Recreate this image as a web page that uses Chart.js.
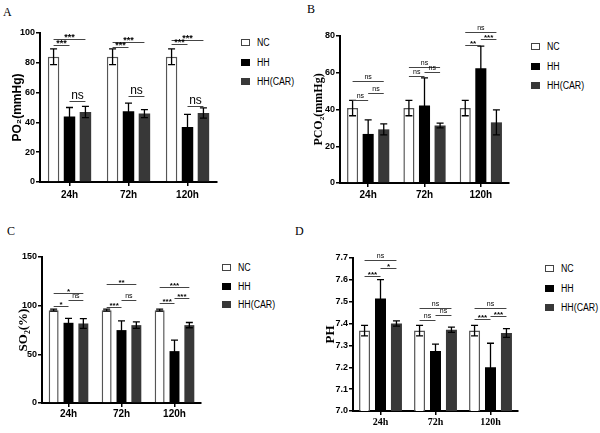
<!DOCTYPE html>
<html>
<head>
<meta charset="utf-8">
<script src="https://cdn.jsdelivr.net/npm/chart.js@4.4.1/dist/chart.umd.min.js"></script>
<style>
  body { margin: 0; background: #fff; }
  #page { position: relative; width: 600px; height: 433px; overflow: hidden; background: #fff; }
  canvas { position: absolute; }
  .letter { position: absolute; font: 12px 'Liberation Serif', 'Times New Roman', serif; color: #000; }
  .legend { position: absolute; font: 10px 'Liberation Sans Narrow', 'Arial Narrow', 'Liberation Sans', Arial, sans-serif; color: #000; }
  .legend div { position: absolute; left: 0; white-space: nowrap; height: 10px; line-height: 10px; }
  .legend i { position: absolute; left: 0; top: 1px; width: 9px; height: 7px; box-sizing: border-box; }
  .legend span { position: absolute; left: 16px; top: 0; transform: scaleX(0.88); transform-origin: left center; }
</style>
</head>
<body>
<div id="page">
  <div class="letter" style="left:3px;top:5px">A</div>
  <div class="letter" style="left:307px;top:2px">B</div>
  <div class="letter" style="left:7px;top:224px">C</div>
  <div class="letter" style="left:295px;top:224px">D</div>

  <canvas id="chartA" width="230" height="216" style="left:0;top:0"></canvas>
  <canvas id="chartB" width="215" height="216" style="left:300px;top:0"></canvas>
  <canvas id="chartC" width="215" height="217" style="left:0;top:216px"></canvas>
  <canvas id="chartD" width="230" height="217" style="left:300px;top:216px"></canvas>

  <div class="legend" id="legA" style="left:241px;top:38px"></div>
  <div class="legend" id="legB" style="left:531px;top:42px"></div>
  <div class="legend" id="legC" style="left:222px;top:263px"></div>
  <div class="legend" id="legD" style="left:545px;top:264px"></div>
</div>

<script>
// categories
const times  = ['24h', '72h', '120h'];
const groups = ['NC', 'HH', 'HH(CAR)'];

// PO2 (mmHg)
const po2NC     = [84.1, 84.1, 84.1];
const po2NCErr  = [5.3, 5.3, 5.3];
const po2HH     = [44, 47.4, 36.9];
const po2HHErr  = [6, 5.6, 8.5];
const po2CAR    = [47, 45.9, 46.3];
const po2CARErr = [3.8, 2.7, 3.4];
// [time, from group, to group, height, label]
const po2Sig = [
  [0, 0, 2, 96.2, '***'], [0, 0, 1, 91.9, '***'], [0, 1, 2, 54.6, 'ns'],
  [1, 0, 2, 93.9, '***'], [1, 0, 1, 90.6, '***'], [1, 1, 2, 57.5, 'ns'],
  [2, 0, 2, 95.3, '***'], [2, 0, 1, 92.4, '***'], [2, 1, 2, 51.2, 'ns']
];

// PCO2 (mmHg)
const pco2NC     = [40.8, 40.8, 40.8];
const pco2NCErr  = [4.2, 4.2, 4.2];
const pco2HH     = [26.7, 42.2, 62.5];
const pco2HHErr  = [7.7, 15, 12];
const pco2CAR    = [29.2, 31.3, 33];
const pco2CARErr = [3, 1.3, 6.8];
const pco2Sig = [
  [0, 0, 2, 55.7, 'ns'], [0, 0, 1, 45.4, 'ns'], [0, 1, 2, 48.8, 'ns'],
  [1, 0, 2, 63.4, 'ns'], [1, 0, 1, 58, 'ns'],   [1, 1, 2, 60.5, 'ns'],
  [2, 0, 2, 82.2, 'ns'], [2, 0, 1, 75, '**'],   [2, 1, 2, 78.2, '***']
];

// SO2 (%)
const so2NC     = [95.4, 95.4, 95.4];
const so2NCErr  = [1, 1, 1];
const so2HH     = [82.4, 74.9, 53.3];
const so2HHErr  = [4.5, 9.5, 11.3];
const so2CAR    = [81.7, 80, 80];
const so2CARErr = [5, 3.4, 2.7];
const so2Sig = [
  [0, 0, 2, 113, '*'],    [0, 0, 1, 99.5, '*'],   [0, 1, 2, 105.6, 'ns'],
  [1, 0, 2, 122.7, '**'], [1, 0, 1, 98.8, '***'], [1, 1, 2, 105.6, 'ns'],
  [2, 0, 2, 119.3, '***'],[2, 0, 1, 102.9, '***'],[2, 1, 2, 108, '***']
];

// PH
const phNC     = [7.368, 7.368, 7.368];
const phNCErr  = [0.024, 0.024, 0.024];
const phHH     = [7.515, 7.274, 7.2];
const phHHErr  = [0.086, 0.032, 0.11];
const phCAR    = [7.4, 7.372, 7.357];
const phCARErr = [0.012, 0.012, 0.02];
const phSig = [
  [0, 0, 2, 7.693, 'ns'], [0, 0, 1, 7.618, '***'], [0, 1, 2, 7.654, '*'],
  [1, 0, 2, 7.469, 'ns'], [1, 0, 1, 7.418, 'ns'],  [1, 1, 2, 7.439, 'ns'],
  [2, 0, 2, 7.47, 'ns'],  [2, 0, 1, 7.419, '***'], [2, 1, 2, 7.433, '***']
];

const SANS  = "'Liberation Sans Narrow', 'Arial Narrow', 'Liberation Sans', Arial, sans-serif";
const SERIF = "'Liberation Serif', 'Times New Roman', serif";
const fills   = ['#ffffff', '#000000', '#383838'];
const borders = ['#555555', '#000000', '#383838'];

// error bars, drawn over the bars
const errorBars = {
  id: 'errorBars',
  afterDatasetsDraw(chart) {
    const ctx = chart.ctx, y = chart.scales.y;
    ctx.save();
    ctx.strokeStyle = '#000';
    ctx.lineWidth = 1.3;
    chart.data.datasets.forEach((ds, i) => {
      chart.getDatasetMeta(i).data.forEach((bar, j) => {
        const top = y.getPixelForValue(ds.data[j] + ds.errors[j]);
        const bot = y.getPixelForValue(ds.data[j] - ds.errors[j]);
        ctx.beginPath();
        ctx.moveTo(bar.x, top); ctx.lineTo(bar.x, bot);
        ctx.moveTo(bar.x - 3.5, top); ctx.lineTo(bar.x + 3.5, top);
        ctx.moveTo(bar.x - 3.5, bot); ctx.lineTo(bar.x + 3.5, bot);
        ctx.stroke();
      });
    });
    ctx.restore();
  }
};

// significance lines
const sigLines = {
  id: 'sigLines',
  afterDraw(chart, args, opts) {
    const ctx = chart.ctx, y = chart.scales.y;
    ctx.save();
    ctx.strokeStyle = '#444';
    ctx.fillStyle = '#000';
    ctx.lineWidth = 1;
    ctx.textAlign = 'center';
    ctx.textBaseline = 'alphabetic';
    opts.marks.forEach(([t, a, b, h, txt]) => {
      const x1 = chart.getDatasetMeta(a).data[t].x;
      const x2 = chart.getDatasetMeta(b).data[t].x;
      const py = Math.round(y.getPixelForValue(h)) + 0.5;
      ctx.beginPath();
      ctx.moveTo(x1, py); ctx.lineTo(x2, py);
      ctx.stroke();
      ctx.font = txt === 'ns' ? opts.nsFont : opts.starFont;
      ctx.fillText(txt, (x1 + x2) / 2, py - (txt === 'ns' ? 3 : 0));
    });
    ctx.restore();
  }
};

function makeChart(id, p) {
  new Chart(document.getElementById(id), {
    type: 'bar',
    data: {
      labels: times,
      datasets: p.values.map((vals, i) => ({
        label: groups[i],
        data: vals,
        errors: p.errors[i],
        backgroundColor: fills[i],
        borderColor: borders[i],
        borderWidth: i === 0 ? 1.5 : 0,
        categoryPercentage: p.cat,
        barPercentage: p.bar
      }))
    },
    plugins: [errorBars, sigLines],
    options: {
      responsive: false,
      animation: false,
      events: [],
      layout: { padding: p.pad },
      plugins: {
        legend: { display: false },
        tooltip: { enabled: false },
        sigLines: { marks: p.sig, nsFont: p.nsFont, starFont: p.starFont }
      },
      scales: {
        x: {
          offset: true,
          ticks: { color: '#000', font: p.xFont, padding: p.xPad },
          grid: { display: true, offset: false, drawOnChartArea: false, drawTicks: true, tickLength: 4, color: '#000', lineWidth: 1.5 },
          border: { display: true, color: '#000', width: 2 },
          afterFit: s => { s.height = p.xHeight; }
        },
        y: {
          min: p.min, max: p.max,
          ticks: { stepSize: p.step, color: '#000', font: { family: SANS, size: 9, weight: 'bold' }, padding: 1,
                   callback: p.fmt || (v => v) },
          grid: { display: true, drawOnChartArea: false, drawTicks: true, tickLength: 4, color: '#000', lineWidth: 1.5 },
          border: { display: true, color: '#000', width: 2 },
          title: { display: true, text: p.title, color: '#000', font: p.titleFont, padding: 0 },
          afterFit: s => { s.width = p.yWidth; }
        }
      }
    }
  });
}

makeChart('chartA', {
  values: [po2NC, po2HH, po2CAR], errors: [po2NCErr, po2HHErr, po2CARErr], sig: po2Sig,
  min: 0, max: 100, step: 20, title: 'PO₂(mmHg)',
  titleFont: { family: SANS, size: 12, weight: 'bold' },
  xFont: { family: SANS, size: 10, weight: 'bold' }, xPad: 3,
  nsFont: '12px ' + SANS, starFont: 'bold 9px ' + SANS,
  pad: { left: 10, right: 13, top: 33, bottom: 0 }, yWidth: 30, xHeight: 34,
  cat: 0.81, bar: 0.72
});

makeChart('chartB', {
  values: [pco2NC, pco2HH, pco2CAR], errors: [pco2NCErr, pco2HHErr, pco2CARErr], sig: pco2Sig,
  min: 0, max: 80, step: 20, title: 'PCO₂(mmHg)',
  titleFont: { family: SERIF, size: 12, weight: 'bold' },
  xFont: { family: SANS, size: 10, weight: 'bold' }, xPad: 2,
  nsFont: '7px ' + SANS, starFont: 'bold 8px ' + SANS,
  pad: { left: 12, right: 6, top: 36, bottom: 0 }, yWidth: 28, xHeight: 33,
  cat: 0.83, bar: 0.71
});

makeChart('chartC', {
  values: [so2NC, so2HH, so2CAR], errors: [so2NCErr, so2HHErr, so2CARErr], sig: so2Sig,
  min: 0, max: 150, step: 50, title: 'SO₂(%)',
  titleFont: { family: SERIF, size: 13, weight: 'bold' },
  xFont: { family: SANS, size: 10, weight: 'bold' }, xPad: 1,
  nsFont: '7px ' + SANS, starFont: 'bold 8px ' + SANS,
  pad: { left: 16, right: 14, top: 41, bottom: 0 }, yWidth: 26, xHeight: 30,
  cat: 0.84, bar: 0.67
});

makeChart('chartD', {
  values: [phNC, phHH, phCAR], errors: [phNCErr, phHHErr, phCARErr], sig: phSig,
  min: 7.0, max: 7.7, step: 0.1, title: 'PH', fmt: v => v.toFixed(1),
  titleFont: { family: SERIF, size: 13, weight: 'bold' },
  xFont: { family: SERIF, size: 10, weight: 'bold' }, xPad: 1,
  nsFont: '7px ' + SANS, starFont: 'bold 8px ' + SANS,
  pad: { left: 23, right: 12, top: 42, bottom: 0 }, yWidth: 30, xHeight: 22,
  cat: 0.87, bar: 0.69
});

// legends
const legRows = [[0, 0], [1, 20], [2, 39]];
['legA', 'legB', 'legC', 'legD'].forEach((id, k) => {
  const box = document.getElementById(id);
  legRows.forEach(([g, top]) => {
    const row = document.createElement('div');
    row.style.top = (k === 2 ? top * 0.95 : top) + 'px';
    const sw = document.createElement('i');
    sw.style.background = fills[g];
    sw.style.border = '1px solid ' + (g === 0 ? '#444' : fills[g]);
    const tx = document.createElement('span');
    tx.textContent = groups[g];
    row.appendChild(sw);
    row.appendChild(tx);
    box.appendChild(row);
  });
});
</script>
</body>
</html>
